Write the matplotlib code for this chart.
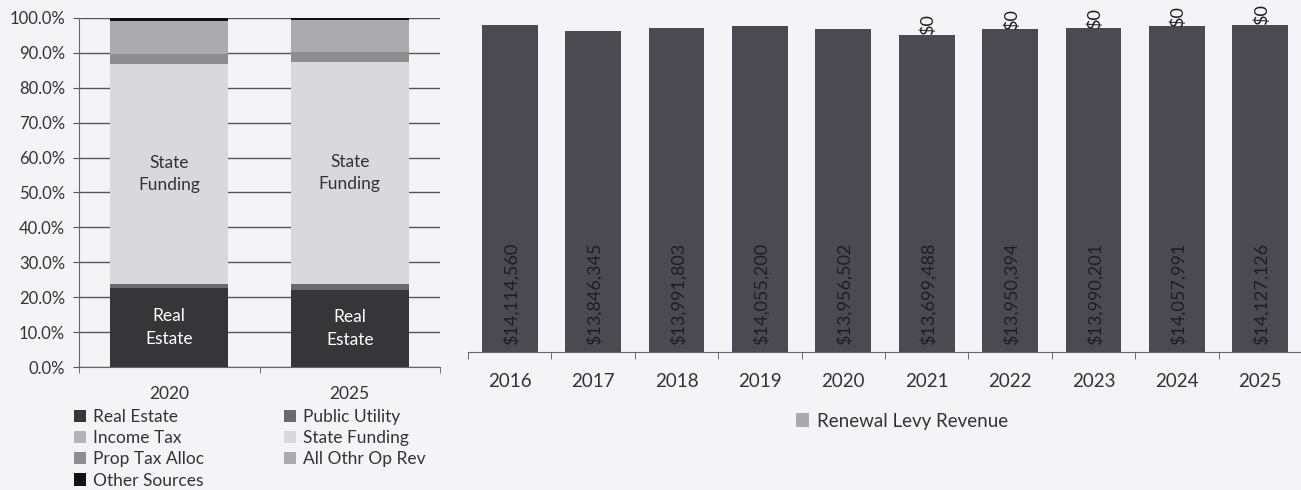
import matplotlib
matplotlib.use("Agg")
import matplotlib.pyplot as plt
from matplotlib.patches import Patch
import numpy as np

plt.rcParams['font.family'] = ['Lato', 'DejaVu Sans']

# ---- Left chart data (share of revenue, %) ----
years_left = ["2020", "2025"]
sources = ["Real Estate", "Public Utility", "Income Tax", "State Funding",
           "Prop Tax Alloc", "All Othr Op Rev", "Other Sources"]
real_estate = [22.7, 22.2]
public_utility = [1.2, 1.7]
income_tax = [0.0, 0.0]
state_funding = [62.8, 63.4]
prop_tax_alloc = [3.1, 3.0]
all_othr_op_rev = [9.3, 9.2]
other_sources = [0.9, 0.5]

# ---- Right chart data ----
years_right = ["2016", "2017", "2018", "2019", "2020",
               "2021", "2022", "2023", "2024", "2025"]
renewal_levy = [14114560, 13846345, 13991803, 14055200, 13956502,
                13699488, 13950394, 13990201, 14057991, 14127126]
new_levy = [None, None, None, None, None, 0, 0, 0, 0, 0]

bg = '#f4f4f6'
fig = plt.figure(figsize=(13.01, 4.90), dpi=100, facecolor=bg)

# ================= Left chart =================
axL = fig.add_axes([79/1301, 1-367/490, 361/1301, 349/490])
axL.set_facecolor(bg)
series = [real_estate, public_utility, income_tax, state_funding,
          prop_tax_alloc, all_othr_op_rev, other_sources]
colors = ['#363638', '#6a6b6d', '#b4b4b6', '#d9d9db',
          '#8d8d90', '#ababae', '#111113']
x = np.arange(len(years_left))
bottom = np.zeros(len(years_left))
for vals, col, name in zip(series, colors, sources):
    v = np.array(vals)
    axL.bar(x, v, 0.655, bottom=bottom, color=col, label=name, zorder=3,
            linewidth=0)
    bottom += v

for i in range(len(years_left)):
    re_mid = real_estate[i] / 2
    axL.text(x[i], re_mid, "Real\nEstate", ha='center', va='center',
             color='white', fontsize=12.5, zorder=4, linespacing=1.5)
    sf_base = real_estate[i] + public_utility[i] + income_tax[i]
    axL.text(x[i], sf_base + state_funding[i] / 2, "State\nFunding",
             ha='center', va='center', color='#333333', fontsize=12.5,
             zorder=4, linespacing=1.5)

axL.set_ylim(0, 100)
axL.set_xlim(-0.5, 1.5)
axL.set_yticks(np.arange(0, 101, 10))
axL.set_yticklabels([f"{v:.1f}%" for v in np.arange(0, 101, 10)],
                    fontsize=12, color='#333333')
axL.set_xticks(x)
axL.set_xticklabels(years_left, fontsize=12.5, color='#333333')
axL.set_xticks([-0.5, 0.5, 1.5], minor=True)
axL.tick_params(axis='x', which='major', length=0, pad=14)
axL.tick_params(axis='x', which='minor', length=4, color='#555555')
axL.tick_params(axis='y', length=4, color='#555555', pad=6)
axL.yaxis.grid(True, color='#555555', linewidth=1.0, zorder=0)
axL.set_axisbelow(True)
for s in ['top', 'right']:
    axL.spines[s].set_visible(False)
axL.spines['left'].set_color('#666666')
axL.spines['bottom'].set_color('#666666')

handles = [Patch(facecolor=c, label=n) for c, n in zip(colors, sources)]
# reorder so that reading row-wise matches the reference (2 columns)
order = [0, 2, 4, 6, 1, 3, 5]
fig.legend([handles[i] for i in order], [sources[i] for i in order],
           loc='upper left', bbox_to_anchor=(74/1301, 1-409/490), ncol=2,
           frameon=False, fontsize=12.5, handlelength=0.7, handleheight=0.7,
           handletextpad=0.4, columnspacing=4.6, labelspacing=0.3,
           borderpad=0, borderaxespad=0, labelcolor='#333333')

# ================= Right chart =================
axR = fig.add_axes([468/1301, 1-352/490, 834/1301, 352/490])
axR.set_facecolor(bg)
xr = np.arange(len(years_right))
bars = axR.bar(xr, renewal_levy, 0.67, color='#4b4a52', zorder=3,
               label='Renewal Levy Revenue')
for xi, v in zip(xr, renewal_levy):
    axR.annotate(f"${v:,.0f}", (xi, 0), xytext=(1, 5),
                 textcoords='offset points', rotation=90, ha='center',
                 va='bottom', fontsize=13, color='#1e1e22', zorder=4)
for xi, v, nv in zip(xr, renewal_levy, new_levy):
    if nv is None:
        continue
    axR.bar(xi, nv, 0.67, bottom=v, color='#4b4a52', zorder=3)
    axR.annotate(f"${nv:,.0f}", (xi, v + nv), xytext=(1, 7),
                 textcoords='offset points', rotation=90, ha='center',
                 va='center', fontsize=13, color='#1e1e22', zorder=4)

axR.set_xlim(-0.5, len(years_right) - 0.5)
axR.set_ylim(0, 14114560 * 352 / 327)
axR.set_xticks(xr)
axR.set_xticklabels(years_right, fontsize=13.5, color='#333333')
axR.set_xticks(np.arange(-0.5, len(years_right), 1.0), minor=True)
axR.tick_params(axis='x', which='major', length=0, pad=15)
axR.tick_params(axis='x', which='minor', length=5, color='#555555')
axR.set_yticks([])
for s in ['top', 'right', 'left']:
    axR.spines[s].set_visible(False)
axR.spines['bottom'].set_color('#666666')

fig.legend([Patch(facecolor='#a6abb0')], ['Renewal Levy Revenue'],
           loc='center left', bbox_to_anchor=(796/1301, 1-421/490),
           frameon=False, fontsize=13.5, handlelength=0.7, handleheight=0.7,
           handletextpad=0.4, borderpad=0, borderaxespad=0,
           labelcolor='#333333')

fig.savefig('out.png', dpi=100, facecolor=bg)
